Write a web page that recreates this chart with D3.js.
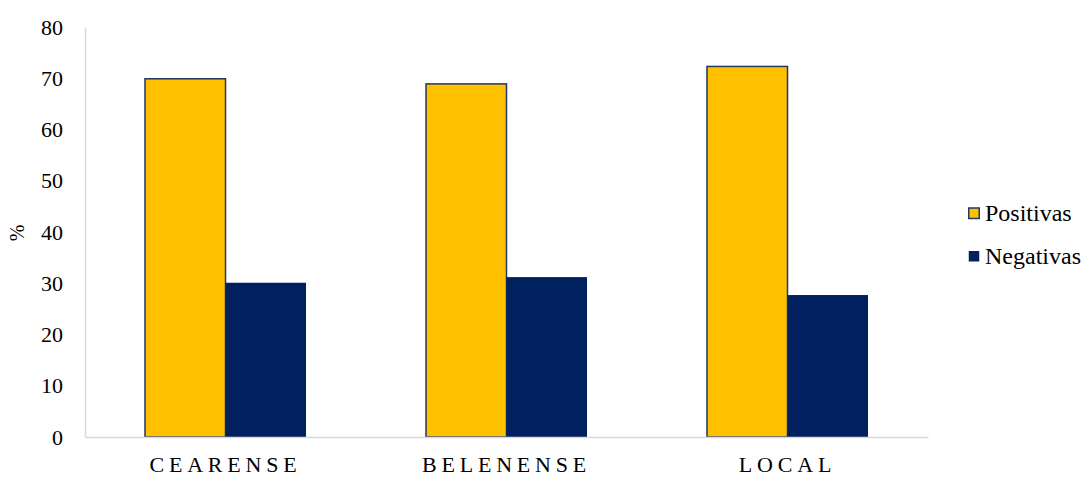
<!DOCTYPE html>
<html>
<head>
<meta charset="utf-8">
<script src="https://cdn.jsdelivr.net/npm/d3@7"></script>
<style>
  html, body { margin: 0; padding: 0; background: #fff; }
</style>
</head>
<body>
<svg id="chart" width="1084" height="477"></svg>
<script>
// Evaluation shares (%) by supporter group
const categories = ["CEARENSE", "BELENENSE", "LOCAL"];
const seriesNames = ["Positivas", "Negativas"];
const positivas = [69.9, 68.9, 72.3];
const negativas = [30.1, 31.2, 27.7];
const yTicks = [0, 10, 20, 30, 40, 50, 60, 70, 80];
const colors = ["#FFC000", "#002060"];
const SERIF = '"Liberation Serif"';

const svg = d3.select("#chart");
const margin = { left: 85, right: 156, top: 27, bottom: 40 };
const W = 1084, H = 477;
const plotW = W - margin.left - margin.right;
const plotH = H - margin.top - margin.bottom;

const g = svg.append("g").attr("transform", `translate(${margin.left},${margin.top})`);

const x0 = d3.scaleBand().domain(categories).range([0, plotW]).paddingInner(0.427).paddingOuter(0.2135);
const x1 = d3.scaleBand().domain(seriesNames).range([0, x0.bandwidth()]);
const y = d3.scaleLinear().domain([0, 80]).range([plotH, 0]);

const rows = categories.map((c, i) => ({ cat: c, vals: [positivas[i], negativas[i]] }));

// Bars
const groups = g.selectAll("g.cat").data(rows).join("g")
  .attr("class", "cat")
  .attr("transform", d => `translate(${x0(d.cat)},0)`);

groups.selectAll("rect").data(d => d.vals.map((v, j) => ({ key: seriesNames[j], v, j })))
  .join("rect")
  .attr("x", d => x1(d.key))
  .attr("y", d => y(d.v))
  .attr("width", x1.bandwidth())
  .attr("height", d => y(0) - y(d.v))
  .attr("fill", d => colors[d.j])
  .attr("stroke", "#1F3864")
  .attr("stroke-width", d => d.j === 0 ? 1.5 : 0);

// Y axis
const yAxis = g.append("g").call(d3.axisLeft(y).tickValues(yTicks).tickSize(0).tickPadding(22));
yAxis.select(".domain").attr("stroke", "#d9d9d9").attr("stroke-width", 1.5);
yAxis.selectAll("text")
  .style("font-family", SERIF).style("font-size", "22px").style("fill", "#000");

// X axis
const xAxis = g.append("g").attr("transform", `translate(0,${plotH})`)
  .call(d3.axisBottom(x0).tickSize(0).tickPadding(19));
xAxis.select(".domain").attr("stroke", "#d9d9d9").attr("stroke-width", 1.5);
xAxis.selectAll("text")
  .style("font-family", SERIF).style("font-size", "22px").style("fill", "#000")
  .style("letter-spacing", "4.8px");

// Y title
svg.append("text")
  .attr("transform", `translate(24,233) rotate(-90)`)
  .attr("text-anchor", "middle")
  .style("font-family", SERIF).style("font-size", "20px")
  .text("%");

// Legend
const legend = svg.append("g").attr("transform", "translate(968,0)");
const ly = [213, 256];
seriesNames.forEach((s, i) => {
  legend.append("rect")
    .attr("x", 0.75).attr("y", ly[i] - 5)
    .attr("width", 10.5).attr("height", 10.5)
    .attr("fill", colors[i])
    .attr("stroke", "#1F3864").attr("stroke-width", i === 0 ? 1.5 : 0);
  legend.append("text")
    .attr("x", 17).attr("y", ly[i])
    .attr("dy", "0.35em")
    .style("font-family", SERIF).style("font-size", "24px")
    .text(s);
});
</script>
</body>
</html>
